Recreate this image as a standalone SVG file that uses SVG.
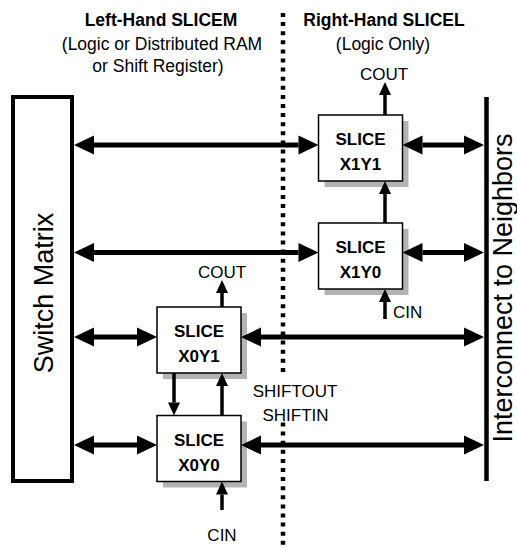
<svg xmlns="http://www.w3.org/2000/svg" width="517" height="547" viewBox="0 0 517 547">
<style>
  text { font-family: "Liberation Sans", Arial, Helvetica, sans-serif; fill: #000; }
  .title { font-size: 17.5px; font-weight: bold; text-anchor: middle; }
  .sub { font-size: 17.5px; text-anchor: middle; }
  .lbl { font-size: 17px; }
  .mid { text-anchor: middle; }
  .big { font-size: 27px; text-anchor: middle; }
  .sl { font-size: 17px; font-weight: bold; text-anchor: middle; }
  .box { fill: #fff; stroke: #000; stroke-width: 1.5; }
  .shadow { fill: #b3b3b3; stroke: none; }
  .dots { stroke: #000; stroke-width: 4.5; stroke-dasharray: 4 5.1; }
  .bus { stroke: #000; stroke-width: 5; fill: none; marker-start: url(#bh); marker-end: url(#bh); }
  .thin { stroke: #000; stroke-width: 3.5; fill: none; marker-end: url(#sh); }
</style>
<defs>
  <marker id="bh" markerUnits="userSpaceOnUse" markerWidth="20" markerHeight="19" refX="0" refY="9.5" orient="auto-start-reverse" overflow="visible">
    <path d="M0,0 L20,9.5 L0,19 z" fill="#000"/>
  </marker>
  <marker id="sh" markerUnits="userSpaceOnUse" markerWidth="13" markerHeight="12" refX="0" refY="6" orient="auto" overflow="visible">
    <path d="M0,0 L13,6 L0,12 z" fill="#000"/>
  </marker>
</defs>

<!-- headings -->
<text class="title" x="161" y="26">Left-Hand SLICEM</text>
<text class="sub" x="162" y="49.5">(Logic or Distributed RAM</text>
<text class="sub" x="158" y="72">or Shift Register)</text>
<text class="title" x="384" y="26">Right-Hand SLICEL</text>
<text class="sub" x="383" y="49.5">(Logic Only)</text>

<!-- divider -->
<line class="dots" x1="283" y1="13" x2="283" y2="376"/>
<line class="dots" x1="283" y1="422.5" x2="283" y2="547"/>

<g id="switch-matrix">
  <rect x="13" y="97" width="59" height="384" fill="#fff" stroke="#000" stroke-width="4"/>
  <text class="big" transform="translate(52.5,293) rotate(-90)">Switch Matrix</text>
</g>

<g id="interconnect">
  <line x1="486.5" y1="97" x2="486.5" y2="481" stroke="#000" stroke-width="4.5"/>
  <text class="big" transform="translate(512,288) rotate(-90)">Interconnect to Neighbors</text>
</g>

<g id="slice-x1y1">
  <rect class="shadow" x="324.5" y="121" width="84" height="66"/>
  <rect class="box" x="318.5" y="115" width="84" height="66"/>
  <text class="sl" x="360.5" y="145">SLICE</text>
  <text class="sl" x="360.5" y="170">X1Y1</text>
</g>

<g id="slice-x1y0">
  <rect class="shadow" x="324.5" y="229" width="84" height="66"/>
  <rect class="box" x="318.5" y="223" width="84" height="66"/>
  <text class="sl" x="360.5" y="253">SLICE</text>
  <text class="sl" x="360.5" y="278">X1Y0</text>
</g>

<g id="slice-x0y1">
  <rect class="shadow" x="163" y="313" width="84" height="66"/>
  <rect class="box" x="157" y="307" width="84" height="66"/>
  <text class="sl" x="199" y="337">SLICE</text>
  <text class="sl" x="199" y="362">X0Y1</text>
</g>

<g id="slice-x0y0">
  <rect class="shadow" x="163" y="421.5" width="84" height="66"/>
  <rect class="box" x="157" y="415.5" width="84" height="66"/>
  <text class="sl" x="199" y="445.5">SLICE</text>
  <text class="sl" x="199" y="470.5">X0Y0</text>
</g>

<g id="connectors">
  <line class="bus" x1="94" y1="145" x2="298.5" y2="145"/>
  <line class="bus" x1="422.5" y1="145" x2="464" y2="145"/>
  <line class="bus" x1="94" y1="252.5" x2="298.5" y2="252.5"/>
  <line class="bus" x1="422.5" y1="252.5" x2="464" y2="252.5"/>
  <line class="bus" x1="94" y1="337" x2="137" y2="337"/>
  <line class="bus" x1="261" y1="337" x2="464" y2="337"/>
  <line class="bus" x1="94" y1="445" x2="137" y2="445"/>
  <line class="bus" x1="261" y1="445" x2="464" y2="445"/>

  <line class="thin" x1="385" y1="115" x2="385" y2="95"/>
  <line class="thin" x1="385" y1="223" x2="385" y2="194"/>
  <line class="thin" x1="385" y1="319" x2="385" y2="302"/>
  <line class="thin" x1="222" y1="307" x2="222" y2="293"/>
  <line class="thin" x1="174" y1="373" x2="174" y2="402.5"/>
  <line class="thin" x1="222" y1="415.5" x2="222" y2="386"/>
  <line class="thin" x1="222" y1="510" x2="222" y2="494.5"/>
</g>

<!-- signal labels -->
<text class="lbl mid" x="384" y="80">COUT</text>
<text class="lbl" x="393" y="318">CIN</text>
<text class="lbl mid" x="222" y="277.5">COUT</text>
<text class="lbl mid" x="295" y="396.5">SHIFTOUT</text>
<text class="lbl mid" x="295.5" y="420.5">SHIFTIN</text>
<text class="lbl mid" x="222" y="540.5">CIN</text>
</svg>
